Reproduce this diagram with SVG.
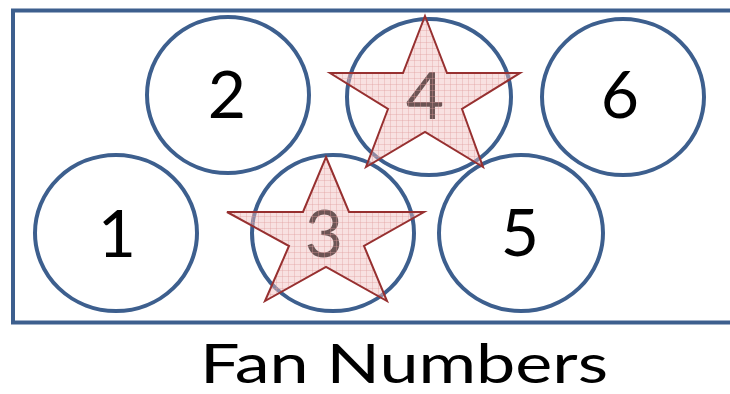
<svg xmlns="http://www.w3.org/2000/svg" width="730" height="394" viewBox="0 0 730 394">
<defs>
<pattern id="grid" width="6" height="6" patternUnits="userSpaceOnUse">
<rect width="6" height="6" fill="#efbcbc" fill-opacity="0.45"/>
<path d="M0 0.5H6M0.5 0V6" stroke="#e09a9a" stroke-width="0.7" stroke-opacity="0.5"/>
</pattern>
<style>
.fan{fill:none;stroke:#3d5f8e;stroke-width:4}
.num{font-family:Lato,"Open Sans","Liberation Sans",sans-serif;font-size:66px;fill:#000;text-anchor:middle}
.star{fill:url(#grid);stroke:#973030;stroke-width:2;stroke-linejoin:miter}
</style>
</defs>
<rect x="0" y="0" width="730" height="394" fill="#fff"/>
<rect id="frame" x="13" y="10.5" width="740" height="312" fill="none" stroke="#3d5f8e" stroke-width="4"/>
<g id="fan1"><ellipse class="fan" cx="116" cy="233" rx="81" ry="78"/><text class="num" x="117" y="257">1</text></g>
<g id="fan2"><ellipse class="fan" cx="228" cy="95" rx="81" ry="78"/><text class="num" x="227" y="118">2</text></g>
<g id="fan4"><ellipse class="fan" cx="429" cy="97" rx="82" ry="78"/><text class="num" x="425" y="119">4</text></g>
<g id="fan6"><ellipse class="fan" cx="623" cy="97" rx="81" ry="78"/><text class="num" x="620" y="118">6</text></g>
<g id="fan3"><ellipse class="fan" cx="333" cy="233" rx="81" ry="78"/><text class="num" x="324" y="257">3</text></g>
<g id="fan5"><ellipse class="fan" cx="521" cy="233" rx="82" ry="78"/><text class="num" x="520" y="256">5</text></g>
<g id="star4"><polygon class="star" points="425,16 447,73 520,73 462,109 483,167 425,132 366,167 388,109 330,73 403,73"/></g>
<g id="star3"><polygon class="star" points="326,157 349,212 424,212 364,246 387,301 326,267 265,301 289,246 227,212 303,212"/></g>
<text id="caption" x="404" y="383" font-family="Lato,'Open Sans','Liberation Sans',sans-serif" font-size="55" text-anchor="middle" textLength="408" lengthAdjust="spacingAndGlyphs" fill="#000">Fan Numbers</text>
</svg>
